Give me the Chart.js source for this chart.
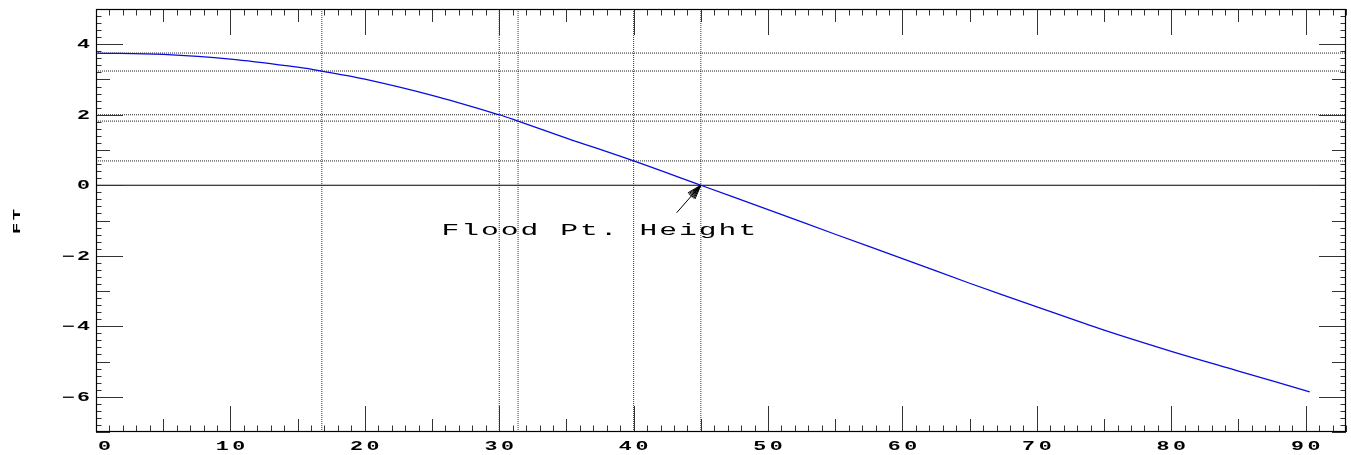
<!DOCTYPE html>
<html>
<head>
<meta charset="utf-8">
<script src="https://cdn.jsdelivr.net/npm/chart.js@4/dist/chart.umd.min.js"></script>
<style>
  html, body { margin: 0; padding: 0; background: #ffffff; }
  #wrap { width: 1351px; height: 455px; position: relative; }
</style>
</head>
<body>
<div id="wrap"><canvas id="c" width="1351" height="455"></canvas></div>
<script>
// ---- data ----
const heelAngles = [0, 5, 10, 15, 16.8, 20, 25, 30, 31.4, 35, 40, 45, 50, 55, 60, 65, 70, 75, 80, 85, 90.3];
const heights    = [3.75, 3.71, 3.58, 3.35, 3.24, 3.01, 2.55, 2.00, 1.82, 1.34, 0.69, 0.00, -0.69, -1.39, -2.08, -2.78, -3.45, -4.11, -4.71, -5.27, -5.86];
const markerAngles  = [16.8, 30.0, 31.4, 40.0, 45.0];
const markerHeights = [3.75, 3.24, 2.00, 1.82, 0.69];
const zeroHeight = [0];
const xTickValues = [0, 10, 20, 30, 40, 50, 60, 70, 80, 90];
const xTickLabels = ['0', '10', '20', '30', '40', '50', '60', '70', '80', '90'];
const yTickValues = [-6, -4, -2, 0, 2, 4];
const yTickLabels = ['\u22126', '\u22124', '\u22122', '0', '2', '4'];
const yAxisTitle = 'FT';
const annotationText = 'Flood Pt. Height';
const annotationPoint = [25.7, -1.40];
const arrowFrom = [43.2, -0.78];
const arrowTo = [45.0, 0.0];
const xRange = [0, 93];
const yRange = [-7, 5];

// ---- datasets ----
const datasets = [];
datasets.push({
  data: heelAngles.map((a, i) => ({ x: a, y: heights[i] })),
  borderColor: 'rgb(10,10,225)', borderWidth: 1.3, pointRadius: 0,
  tension: 0.35, fill: false
});
zeroHeight.forEach(h => datasets.push({
  data: [{ x: xRange[0], y: h }, { x: xRange[1], y: h }],
  borderColor: '#000', borderWidth: 1.2, pointRadius: 0, fill: false
}));
markerHeights.forEach(h => datasets.push({
  data: [{ x: xRange[0], y: h }, { x: xRange[1], y: h }],
  borderColor: '#222', borderWidth: 1, borderDash: [1, 1], pointRadius: 0, fill: false
}));
markerAngles.forEach(a => datasets.push({
  data: [{ x: a, y: yRange[0] }, { x: a, y: yRange[1] }],
  borderColor: '#333', borderWidth: 1, borderDash: [1, 1], pointRadius: 0, fill: false
}));

function stretchedText(ctx, text, x, y, font, sx, spacing, align) {
  ctx.save();
  ctx.font = font;
  ctx.letterSpacing = spacing + 'px';
  const w = ctx.measureText(text).width - spacing;
  ctx.translate(x, y);
  ctx.scale(sx, 1);
  ctx.textAlign = 'left';
  ctx.textBaseline = 'alphabetic';
  let ox = 0;
  if (align === 'center') ox = -w / 2;
  else if (align === 'right') ox = -w;
  ctx.fillText(text, ox, 0);
  ctx.restore();
  return w * sx;
}

const axisDeco = {
  id: 'axisDeco',
  afterDraw(chart) {
    const { ctx, chartArea: a, scales: { x, y } } = chart;
    ctx.save();
    // ticks
    ctx.strokeStyle = '#333';
    ctx.lineWidth = 1;
    ctx.beginPath();
    for (let v = xRange[0]; v <= xRange[1]; v++) {
      const len = v % 10 === 0 ? 26 : (v % 5 === 0 ? 13 : 6.5);
      const px = Math.round(x.getPixelForValue(v)) + 0.5;
      ctx.moveTo(px, a.bottom); ctx.lineTo(px, a.bottom - len);
      ctx.moveTo(px, a.top); ctx.lineTo(px, a.top + len);
    }
    for (let i = yRange[0] * 5; i <= yRange[1] * 5; i++) {
      const len = i % 10 === 0 ? 27 : (i % 5 === 0 ? 14 : 5.5);
      const py = Math.round(y.getPixelForValue(i / 5)) + 0.5;
      ctx.moveTo(a.left, py); ctx.lineTo(a.left + len, py);
      ctx.moveTo(a.right, py); ctx.lineTo(a.right - len, py);
    }
    ctx.stroke();
    // frame
    ctx.strokeStyle = '#000';
    ctx.lineWidth = 1.2;
    ctx.strokeRect(a.left + 0.5, a.top + 0.5, a.right - a.left - 1, a.bottom - a.top - 1);

    // tick labels
    ctx.fillStyle = '#000';
    const tickFont = 'bold 12px "Liberation Mono"';
    xTickValues.forEach((v, i) => {
      let cx = x.getPixelForValue(v);
      ctx.save(); ctx.font = tickFont; ctx.letterSpacing = '2px';
      const w = (ctx.measureText(xTickLabels[i]).width - 2) * 1.8;
      ctx.restore();
      if (cx - w / 2 < a.left + 2) cx = a.left + 2 + w / 2;
      stretchedText(ctx, xTickLabels[i], cx, a.bottom + 18, tickFont, 1.8, 2, 'center');
    });
    yTickValues.forEach((v, i) => {
      const py = y.getPixelForValue(v);
      stretchedText(ctx, yTickLabels[i], a.left - 6, py + 4, tickFont, 1.8, 1.5, 'right');
    });

    // y axis title (rotated, reads bottom to top)
    ctx.save();
    ctx.translate(20, (a.top + a.bottom) / 2 + 1);
    ctx.rotate(-Math.PI / 2);
    stretchedText(ctx, yAxisTitle, 0, 0, 'bold 11px "Liberation Mono"', 1.7, 1.5, 'center');
    ctx.restore();

    // annotation text and arrow
    const tx = x.getPixelForValue(annotationPoint[0]);
    const ty = y.getPixelForValue(annotationPoint[1]);
    stretchedText(ctx, annotationText, tx, ty, '16px "Liberation Mono"', 1.85, 1.1, 'left');

    const x0 = x.getPixelForValue(arrowFrom[0]), y0 = y.getPixelForValue(arrowFrom[1]);
    const x1 = x.getPixelForValue(arrowTo[0]), y1 = y.getPixelForValue(arrowTo[1]);
    ctx.strokeStyle = '#000';
    ctx.lineWidth = 1;
    ctx.beginPath();
    ctx.moveTo(x0, y0); ctx.lineTo(x1, y1);
    const ang = Math.atan2(y0 - y1, x0 - x1);
    [-0.32, -0.24, -0.16, -0.08, 0, 0.08, 0.16, 0.24, 0.32].forEach(d => {
      ctx.moveTo(x1, y1);
      ctx.lineTo(x1 + 15 * Math.cos(ang + d), y1 + 15 * Math.sin(ang + d));
    });
    ctx.stroke();
    ctx.restore();
  }
};

new Chart(document.getElementById('c'), {
  type: 'line',
  data: { datasets },
  plugins: [axisDeco],
  options: {
    responsive: false,
    animation: false,
    devicePixelRatio: 1,
    layout: { padding: { top: 9, right: 5, left: 0, bottom: 0 } },
    plugins: { legend: { display: false }, tooltip: { enabled: false } },
    scales: {
      x: {
        type: 'linear', min: xRange[0], max: xRange[1],
        grid: { display: false }, border: { display: false },
        ticks: { display: false, stepSize: 10 },
        afterFit: s => { s.height = 23; }
      },
      y: {
        type: 'linear', min: yRange[0], max: yRange[1],
        grid: { display: false }, border: { display: false },
        ticks: { display: false, stepSize: 2 },
        afterFit: s => { s.width = 96; }
      }
    }
  }
});
</script>
</body>
</html>
